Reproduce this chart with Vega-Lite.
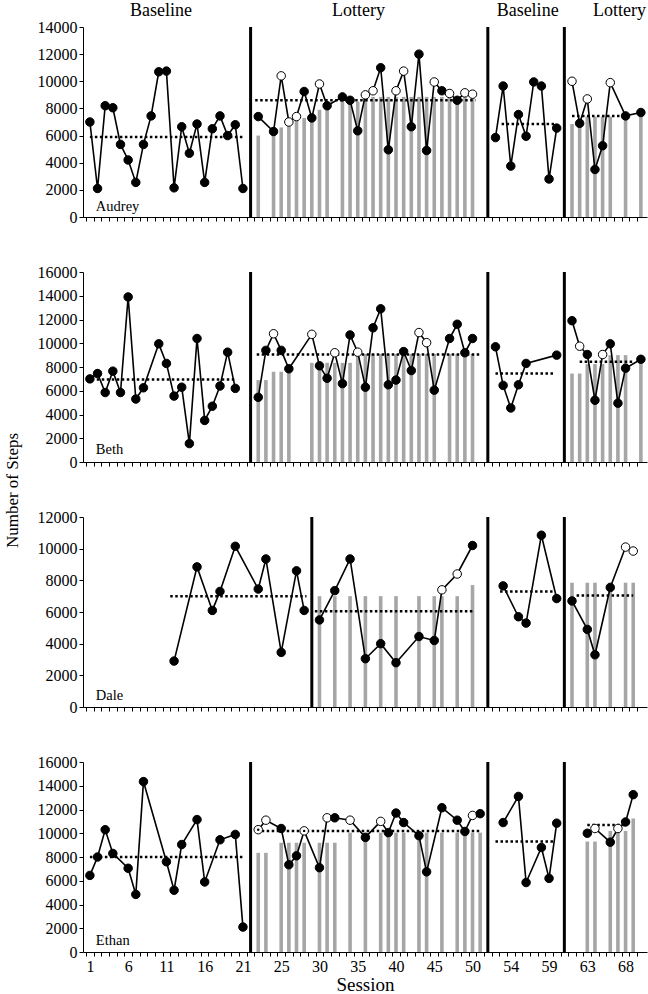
{
"$schema": "https://vega.github.io/schema/vega-lite/v6.json",
"padding": {"left": 3, "top": 2, "right": 0, "bottom": 0},
"bounds": "flush",
"spacing": 55,
"config": {
  "font": "Liberation Serif",
  "view": {"stroke": null},
  "axis": {"grid": false, "domainColor": "black", "tickColor": "black", "labelColor": "black", "titleColor": "black", "tickSize": 4, "labelFontSize": 16, "titleFontWeight": "normal", "labelFont": "Liberation Serif", "titleFont": "Liberation Serif", "domainWidth": 1, "tickWidth": 1},
  "text": {"font": "Liberation Serif", "color": "black"}
},
"datasets": {
"pts": [
{"who":"Audrey","slot":1,"steps":7000,"kind":"filled","phase":"B1"},
{"who":"Audrey","slot":2,"steps":2100,"kind":"filled","phase":"B1"},
{"who":"Audrey","slot":3,"steps":8200,"kind":"filled","phase":"B1"},
{"who":"Audrey","slot":4,"steps":8050,"kind":"filled","phase":"B1"},
{"who":"Audrey","slot":5,"steps":5350,"kind":"filled","phase":"B1"},
{"who":"Audrey","slot":6,"steps":4200,"kind":"filled","phase":"B1"},
{"who":"Audrey","slot":7,"steps":2550,"kind":"filled","phase":"B1"},
{"who":"Audrey","slot":8,"steps":5350,"kind":"filled","phase":"B1"},
{"who":"Audrey","slot":9,"steps":7450,"kind":"filled","phase":"B1"},
{"who":"Audrey","slot":10,"steps":10700,"kind":"filled","phase":"B1"},
{"who":"Audrey","slot":11,"steps":10750,"kind":"filled","phase":"B1"},
{"who":"Audrey","slot":12,"steps":2150,"kind":"filled","phase":"B1"},
{"who":"Audrey","slot":13,"steps":6650,"kind":"filled","phase":"B1"},
{"who":"Audrey","slot":14,"steps":4700,"kind":"filled","phase":"B1"},
{"who":"Audrey","slot":15,"steps":6850,"kind":"filled","phase":"B1"},
{"who":"Audrey","slot":16,"steps":2550,"kind":"filled","phase":"B1"},
{"who":"Audrey","slot":17,"steps":6500,"kind":"filled","phase":"B1"},
{"who":"Audrey","slot":18,"steps":7450,"kind":"filled","phase":"B1"},
{"who":"Audrey","slot":19,"steps":6000,"kind":"filled","phase":"B1"},
{"who":"Audrey","slot":20,"steps":6800,"kind":"filled","phase":"B1"},
{"who":"Audrey","slot":21,"steps":2100,"kind":"filled","phase":"B1"},
{"who":"Audrey","slot":23,"steps":7400,"kind":"filled","phase":"L1"},
{"who":"Audrey","slot":25,"steps":6300,"kind":"filled","phase":"L1"},
{"who":"Audrey","slot":26,"steps":10400,"kind":"open","phase":"L1"},
{"who":"Audrey","slot":27,"steps":7000,"kind":"open","phase":"L1"},
{"who":"Audrey","slot":28,"steps":7400,"kind":"open","phase":"L1"},
{"who":"Audrey","slot":29,"steps":9250,"kind":"filled","phase":"L1"},
{"who":"Audrey","slot":30,"steps":7300,"kind":"filled","phase":"L1"},
{"who":"Audrey","slot":31,"steps":9800,"kind":"open","phase":"L1"},
{"who":"Audrey","slot":32,"steps":8200,"kind":"filled","phase":"L1"},
{"who":"Audrey","slot":34,"steps":8850,"kind":"filled","phase":"L1"},
{"who":"Audrey","slot":35,"steps":8600,"kind":"filled","phase":"L1"},
{"who":"Audrey","slot":36,"steps":6350,"kind":"filled","phase":"L1"},
{"who":"Audrey","slot":37,"steps":9000,"kind":"open","phase":"L1"},
{"who":"Audrey","slot":38,"steps":9300,"kind":"open","phase":"L1"},
{"who":"Audrey","slot":39,"steps":11000,"kind":"filled","phase":"L1"},
{"who":"Audrey","slot":40,"steps":4950,"kind":"filled","phase":"L1"},
{"who":"Audrey","slot":41,"steps":9300,"kind":"open","phase":"L1"},
{"who":"Audrey","slot":42,"steps":10750,"kind":"open","phase":"L1"},
{"who":"Audrey","slot":43,"steps":6650,"kind":"filled","phase":"L1"},
{"who":"Audrey","slot":44,"steps":12000,"kind":"filled","phase":"L1"},
{"who":"Audrey","slot":45,"steps":4900,"kind":"filled","phase":"L1"},
{"who":"Audrey","slot":46,"steps":9950,"kind":"open","phase":"L1"},
{"who":"Audrey","slot":47,"steps":9300,"kind":"filled","phase":"L1"},
{"who":"Audrey","slot":48,"steps":9100,"kind":"open","phase":"L1"},
{"who":"Audrey","slot":49,"steps":8600,"kind":"filled","phase":"L1"},
{"who":"Audrey","slot":50,"steps":9150,"kind":"open","phase":"L1"},
{"who":"Audrey","slot":51,"steps":9050,"kind":"open","phase":"L1"},
{"who":"Audrey","slot":54,"steps":5850,"kind":"filled","phase":"B2"},
{"who":"Audrey","slot":55,"steps":9650,"kind":"filled","phase":"B2"},
{"who":"Audrey","slot":56,"steps":3750,"kind":"filled","phase":"B2"},
{"who":"Audrey","slot":57,"steps":7550,"kind":"filled","phase":"B2"},
{"who":"Audrey","slot":58,"steps":5950,"kind":"filled","phase":"B2"},
{"who":"Audrey","slot":59,"steps":9950,"kind":"filled","phase":"B2"},
{"who":"Audrey","slot":60,"steps":9650,"kind":"filled","phase":"B2"},
{"who":"Audrey","slot":61,"steps":2800,"kind":"filled","phase":"B2"},
{"who":"Audrey","slot":62,"steps":6550,"kind":"filled","phase":"B2"},
{"who":"Audrey","slot":64,"steps":10000,"kind":"open","phase":"L2"},
{"who":"Audrey","slot":65,"steps":6900,"kind":"filled","phase":"L2"},
{"who":"Audrey","slot":66,"steps":8700,"kind":"open","phase":"L2"},
{"who":"Audrey","slot":67,"steps":3500,"kind":"filled","phase":"L2"},
{"who":"Audrey","slot":68,"steps":5250,"kind":"filled","phase":"L2"},
{"who":"Audrey","slot":69,"steps":9900,"kind":"open","phase":"L2"},
{"who":"Audrey","slot":71,"steps":7450,"kind":"filled","phase":"L2"},
{"who":"Audrey","slot":73,"steps":7700,"kind":"filled","phase":"L2"},
{"who":"Beth","slot":1,"steps":7000,"kind":"filled","phase":"B1"},
{"who":"Beth","slot":2,"steps":7450,"kind":"filled","phase":"B1"},
{"who":"Beth","slot":3,"steps":5850,"kind":"filled","phase":"B1"},
{"who":"Beth","slot":4,"steps":7650,"kind":"filled","phase":"B1"},
{"who":"Beth","slot":5,"steps":5850,"kind":"filled","phase":"B1"},
{"who":"Beth","slot":6,"steps":13900,"kind":"filled","phase":"B1"},
{"who":"Beth","slot":7,"steps":5300,"kind":"filled","phase":"B1"},
{"who":"Beth","slot":8,"steps":6250,"kind":"filled","phase":"B1"},
{"who":"Beth","slot":10,"steps":9950,"kind":"filled","phase":"B1"},
{"who":"Beth","slot":11,"steps":8300,"kind":"filled","phase":"B1"},
{"who":"Beth","slot":12,"steps":5550,"kind":"filled","phase":"B1"},
{"who":"Beth","slot":13,"steps":6300,"kind":"filled","phase":"B1"},
{"who":"Beth","slot":14,"steps":1550,"kind":"filled","phase":"B1"},
{"who":"Beth","slot":15,"steps":10400,"kind":"filled","phase":"B1"},
{"who":"Beth","slot":16,"steps":3500,"kind":"filled","phase":"B1"},
{"who":"Beth","slot":17,"steps":4700,"kind":"filled","phase":"B1"},
{"who":"Beth","slot":18,"steps":6400,"kind":"filled","phase":"B1"},
{"who":"Beth","slot":19,"steps":9250,"kind":"filled","phase":"B1"},
{"who":"Beth","slot":20,"steps":6200,"kind":"filled","phase":"B1"},
{"who":"Beth","slot":23,"steps":5450,"kind":"filled","phase":"L1"},
{"who":"Beth","slot":24,"steps":9400,"kind":"filled","phase":"L1"},
{"who":"Beth","slot":25,"steps":10800,"kind":"open","phase":"L1"},
{"who":"Beth","slot":26,"steps":9400,"kind":"filled","phase":"L1"},
{"who":"Beth","slot":27,"steps":7850,"kind":"filled","phase":"L1"},
{"who":"Beth","slot":30,"steps":10750,"kind":"open","phase":"L1"},
{"who":"Beth","slot":31,"steps":8100,"kind":"filled","phase":"L1"},
{"who":"Beth","slot":32,"steps":7050,"kind":"filled","phase":"L1"},
{"who":"Beth","slot":33,"steps":9200,"kind":"open","phase":"L1"},
{"who":"Beth","slot":34,"steps":6600,"kind":"filled","phase":"L1"},
{"who":"Beth","slot":35,"steps":10700,"kind":"filled","phase":"L1"},
{"who":"Beth","slot":36,"steps":9250,"kind":"open","phase":"L1"},
{"who":"Beth","slot":37,"steps":6300,"kind":"filled","phase":"L1"},
{"who":"Beth","slot":38,"steps":11300,"kind":"filled","phase":"L1"},
{"who":"Beth","slot":39,"steps":12900,"kind":"filled","phase":"L1"},
{"who":"Beth","slot":40,"steps":6500,"kind":"filled","phase":"L1"},
{"who":"Beth","slot":41,"steps":6900,"kind":"filled","phase":"L1"},
{"who":"Beth","slot":42,"steps":9300,"kind":"filled","phase":"L1"},
{"who":"Beth","slot":43,"steps":7700,"kind":"filled","phase":"L1"},
{"who":"Beth","slot":44,"steps":10900,"kind":"open","phase":"L1"},
{"who":"Beth","slot":45,"steps":10050,"kind":"open","phase":"L1"},
{"who":"Beth","slot":46,"steps":6050,"kind":"filled","phase":"L1"},
{"who":"Beth","slot":48,"steps":10400,"kind":"filled","phase":"L1"},
{"who":"Beth","slot":49,"steps":11600,"kind":"filled","phase":"L1"},
{"who":"Beth","slot":50,"steps":9200,"kind":"filled","phase":"L1"},
{"who":"Beth","slot":51,"steps":10400,"kind":"filled","phase":"L1"},
{"who":"Beth","slot":54,"steps":9700,"kind":"filled","phase":"B2"},
{"who":"Beth","slot":55,"steps":6450,"kind":"filled","phase":"B2"},
{"who":"Beth","slot":56,"steps":4550,"kind":"filled","phase":"B2"},
{"who":"Beth","slot":57,"steps":6500,"kind":"filled","phase":"B2"},
{"who":"Beth","slot":58,"steps":8300,"kind":"filled","phase":"B2"},
{"who":"Beth","slot":62,"steps":9000,"kind":"filled","phase":"B2"},
{"who":"Beth","slot":64,"steps":11900,"kind":"filled","phase":"L2"},
{"who":"Beth","slot":65,"steps":9750,"kind":"open","phase":"L2"},
{"who":"Beth","slot":66,"steps":9050,"kind":"filled","phase":"L2"},
{"who":"Beth","slot":67,"steps":5200,"kind":"filled","phase":"L2"},
{"who":"Beth","slot":68,"steps":9050,"kind":"open","phase":"L2"},
{"who":"Beth","slot":69,"steps":9950,"kind":"filled","phase":"L2"},
{"who":"Beth","slot":70,"steps":4950,"kind":"filled","phase":"L2"},
{"who":"Beth","slot":71,"steps":7900,"kind":"filled","phase":"L2"},
{"who":"Beth","slot":73,"steps":8650,"kind":"filled","phase":"L2"},
{"who":"Dale","slot":12,"steps":2900,"kind":"filled","phase":"B1"},
{"who":"Dale","slot":15,"steps":8850,"kind":"filled","phase":"B1"},
{"who":"Dale","slot":17,"steps":6100,"kind":"filled","phase":"B1"},
{"who":"Dale","slot":18,"steps":7300,"kind":"filled","phase":"B1"},
{"who":"Dale","slot":20,"steps":10150,"kind":"filled","phase":"B1"},
{"who":"Dale","slot":23,"steps":7450,"kind":"filled","phase":"B1"},
{"who":"Dale","slot":24,"steps":9350,"kind":"filled","phase":"B1"},
{"who":"Dale","slot":26,"steps":3450,"kind":"filled","phase":"B1"},
{"who":"Dale","slot":28,"steps":8600,"kind":"filled","phase":"B1"},
{"who":"Dale","slot":29,"steps":6100,"kind":"filled","phase":"B1"},
{"who":"Dale","slot":31,"steps":5500,"kind":"filled","phase":"L1"},
{"who":"Dale","slot":33,"steps":7350,"kind":"filled","phase":"L1"},
{"who":"Dale","slot":35,"steps":9350,"kind":"filled","phase":"L1"},
{"who":"Dale","slot":37,"steps":3050,"kind":"filled","phase":"L1"},
{"who":"Dale","slot":39,"steps":4000,"kind":"filled","phase":"L1"},
{"who":"Dale","slot":41,"steps":2800,"kind":"filled","phase":"L1"},
{"who":"Dale","slot":44,"steps":4450,"kind":"filled","phase":"L1"},
{"who":"Dale","slot":46,"steps":4200,"kind":"filled","phase":"L1"},
{"who":"Dale","slot":47,"steps":7400,"kind":"open","phase":"L1"},
{"who":"Dale","slot":49,"steps":8400,"kind":"open","phase":"L1"},
{"who":"Dale","slot":51,"steps":10200,"kind":"filled","phase":"L1"},
{"who":"Dale","slot":55,"steps":7650,"kind":"filled","phase":"B2"},
{"who":"Dale","slot":57,"steps":5700,"kind":"filled","phase":"B2"},
{"who":"Dale","slot":58,"steps":5300,"kind":"filled","phase":"B2"},
{"who":"Dale","slot":60,"steps":10850,"kind":"filled","phase":"B2"},
{"who":"Dale","slot":62,"steps":6850,"kind":"filled","phase":"B2"},
{"who":"Dale","slot":64,"steps":6700,"kind":"filled","phase":"L2"},
{"who":"Dale","slot":66,"steps":4900,"kind":"filled","phase":"L2"},
{"who":"Dale","slot":67,"steps":3300,"kind":"filled","phase":"L2"},
{"who":"Dale","slot":69,"steps":7550,"kind":"filled","phase":"L2"},
{"who":"Dale","slot":71,"steps":10100,"kind":"open","phase":"L2"},
{"who":"Dale","slot":72,"steps":9850,"kind":"open","phase":"L2"},
{"who":"Ethan","slot":1,"steps":6450,"kind":"filled","phase":"B1"},
{"who":"Ethan","slot":2,"steps":8000,"kind":"filled","phase":"B1"},
{"who":"Ethan","slot":3,"steps":10300,"kind":"filled","phase":"B1"},
{"who":"Ethan","slot":4,"steps":8300,"kind":"filled","phase":"B1"},
{"who":"Ethan","slot":6,"steps":7050,"kind":"filled","phase":"B1"},
{"who":"Ethan","slot":7,"steps":4850,"kind":"filled","phase":"B1"},
{"who":"Ethan","slot":8,"steps":14350,"kind":"filled","phase":"B1"},
{"who":"Ethan","slot":11,"steps":7600,"kind":"filled","phase":"B1"},
{"who":"Ethan","slot":12,"steps":5200,"kind":"filled","phase":"B1"},
{"who":"Ethan","slot":13,"steps":9050,"kind":"filled","phase":"B1"},
{"who":"Ethan","slot":15,"steps":11150,"kind":"filled","phase":"B1"},
{"who":"Ethan","slot":16,"steps":5900,"kind":"filled","phase":"B1"},
{"who":"Ethan","slot":18,"steps":9450,"kind":"filled","phase":"B1"},
{"who":"Ethan","slot":20,"steps":9900,"kind":"filled","phase":"B1"},
{"who":"Ethan","slot":21,"steps":2100,"kind":"filled","phase":"B1"},
{"who":"Ethan","slot":23,"steps":10300,"kind":"dot","phase":"L1"},
{"who":"Ethan","slot":24,"steps":11100,"kind":"open","phase":"L1"},
{"who":"Ethan","slot":26,"steps":10400,"kind":"filled","phase":"L1"},
{"who":"Ethan","slot":27,"steps":7350,"kind":"filled","phase":"L1"},
{"who":"Ethan","slot":28,"steps":8100,"kind":"filled","phase":"L1"},
{"who":"Ethan","slot":29,"steps":10200,"kind":"dot","phase":"L1"},
{"who":"Ethan","slot":31,"steps":7100,"kind":"filled","phase":"L1"},
{"who":"Ethan","slot":32,"steps":11300,"kind":"open","phase":"L1"},
{"who":"Ethan","slot":33,"steps":11300,"kind":"filled","phase":"L1"},
{"who":"Ethan","slot":35,"steps":11100,"kind":"open","phase":"L1"},
{"who":"Ethan","slot":37,"steps":9650,"kind":"filled","phase":"L1"},
{"who":"Ethan","slot":39,"steps":11000,"kind":"open","phase":"L1"},
{"who":"Ethan","slot":40,"steps":10050,"kind":"filled","phase":"L1"},
{"who":"Ethan","slot":41,"steps":11700,"kind":"filled","phase":"L1"},
{"who":"Ethan","slot":42,"steps":10900,"kind":"filled","phase":"L1"},
{"who":"Ethan","slot":44,"steps":9800,"kind":"filled","phase":"L1"},
{"who":"Ethan","slot":45,"steps":6750,"kind":"filled","phase":"L1"},
{"who":"Ethan","slot":47,"steps":12150,"kind":"filled","phase":"L1"},
{"who":"Ethan","slot":49,"steps":11100,"kind":"filled","phase":"L1"},
{"who":"Ethan","slot":50,"steps":10150,"kind":"filled","phase":"L1"},
{"who":"Ethan","slot":51,"steps":11500,"kind":"open","phase":"L1"},
{"who":"Ethan","slot":52,"steps":11650,"kind":"filled","phase":"L1"},
{"who":"Ethan","slot":55,"steps":10900,"kind":"filled","phase":"B2"},
{"who":"Ethan","slot":57,"steps":13100,"kind":"filled","phase":"B2"},
{"who":"Ethan","slot":58,"steps":5850,"kind":"filled","phase":"B2"},
{"who":"Ethan","slot":60,"steps":8800,"kind":"filled","phase":"B2"},
{"who":"Ethan","slot":61,"steps":6200,"kind":"filled","phase":"B2"},
{"who":"Ethan","slot":62,"steps":10850,"kind":"filled","phase":"B2"},
{"who":"Ethan","slot":66,"steps":10000,"kind":"filled","phase":"L2"},
{"who":"Ethan","slot":67,"steps":10400,"kind":"open","phase":"L2"},
{"who":"Ethan","slot":69,"steps":9250,"kind":"filled","phase":"L2"},
{"who":"Ethan","slot":70,"steps":10400,"kind":"open","phase":"L2"},
{"who":"Ethan","slot":71,"steps":10950,"kind":"filled","phase":"L2"},
{"who":"Ethan","slot":72,"steps":13250,"kind":"filled","phase":"L2"}
],
"bars": [
{"who":"Audrey","slot":23,"steps":6000},{"who":"Audrey","slot":25,"steps":6300},{"who":"Audrey","slot":26,"steps":6600},{"who":"Audrey","slot":27,"steps":6800},{"who":"Audrey","slot":28,"steps":7100},{"who":"Audrey","slot":29,"steps":7300},{"who":"Audrey","slot":30,"steps":7600},{"who":"Audrey","slot":31,"steps":7900},{"who":"Audrey","slot":32,"steps":8100},{"who":"Audrey","slot":34,"steps":8500},{"who":"Audrey","slot":35,"steps":8500},{"who":"Audrey","slot":36,"steps":8500},
{"who":"Audrey","slot":37,"steps":8850},{"who":"Audrey","slot":38,"steps":8850},{"who":"Audrey","slot":39,"steps":8850},{"who":"Audrey","slot":40,"steps":8850},{"who":"Audrey","slot":41,"steps":8850},{"who":"Audrey","slot":42,"steps":8850},{"who":"Audrey","slot":43,"steps":8850},{"who":"Audrey","slot":44,"steps":8850},{"who":"Audrey","slot":45,"steps":8850},{"who":"Audrey","slot":46,"steps":8850},{"who":"Audrey","slot":47,"steps":8850},{"who":"Audrey","slot":48,"steps":8850},{"who":"Audrey","slot":49,"steps":8850},{"who":"Audrey","slot":50,"steps":8850},{"who":"Audrey","slot":51,"steps":8850},
{"who":"Audrey","slot":64,"steps":6850},{"who":"Audrey","slot":65,"steps":6850},{"who":"Audrey","slot":66,"steps":7400},{"who":"Audrey","slot":67,"steps":7400},{"who":"Audrey","slot":68,"steps":7400},{"who":"Audrey","slot":69,"steps":7400},{"who":"Audrey","slot":71,"steps":7400},{"who":"Audrey","slot":73,"steps":7400},
{"who":"Beth","slot":23,"steps":6900},{"who":"Beth","slot":24,"steps":6900},{"who":"Beth","slot":25,"steps":7600},{"who":"Beth","slot":26,"steps":7600},{"who":"Beth","slot":27,"steps":7600},{"who":"Beth","slot":30,"steps":8350},{"who":"Beth","slot":31,"steps":8350},{"who":"Beth","slot":32,"steps":8350},{"who":"Beth","slot":33,"steps":8350},{"who":"Beth","slot":34,"steps":8350},{"who":"Beth","slot":35,"steps":8350},
{"who":"Beth","slot":36,"steps":9100},{"who":"Beth","slot":37,"steps":9100},{"who":"Beth","slot":38,"steps":9100},{"who":"Beth","slot":39,"steps":9100},{"who":"Beth","slot":40,"steps":9100},{"who":"Beth","slot":41,"steps":9100},{"who":"Beth","slot":42,"steps":9100},{"who":"Beth","slot":43,"steps":9100},{"who":"Beth","slot":44,"steps":9100},{"who":"Beth","slot":45,"steps":9100},{"who":"Beth","slot":46,"steps":9100},{"who":"Beth","slot":48,"steps":9100},{"who":"Beth","slot":49,"steps":9100},{"who":"Beth","slot":50,"steps":9100},{"who":"Beth","slot":51,"steps":9100},
{"who":"Beth","slot":64,"steps":7450},{"who":"Beth","slot":65,"steps":7450},{"who":"Beth","slot":66,"steps":8250},{"who":"Beth","slot":67,"steps":8250},{"who":"Beth","slot":68,"steps":8250},{"who":"Beth","slot":69,"steps":9000},{"who":"Beth","slot":70,"steps":9000},{"who":"Beth","slot":71,"steps":9000},{"who":"Beth","slot":73,"steps":8250},
{"who":"Dale","slot":31,"steps":7000},{"who":"Dale","slot":33,"steps":7000},{"who":"Dale","slot":35,"steps":7000},{"who":"Dale","slot":37,"steps":7000},{"who":"Dale","slot":39,"steps":7000},{"who":"Dale","slot":41,"steps":7000},{"who":"Dale","slot":44,"steps":7000},{"who":"Dale","slot":46,"steps":7000},{"who":"Dale","slot":47,"steps":7000},{"who":"Dale","slot":49,"steps":7000},{"who":"Dale","slot":51,"steps":7700},
{"who":"Dale","slot":64,"steps":7850},{"who":"Dale","slot":66,"steps":7850},{"who":"Dale","slot":67,"steps":7850},{"who":"Dale","slot":69,"steps":7850},{"who":"Dale","slot":71,"steps":7850},{"who":"Dale","slot":72,"steps":7850},
{"who":"Ethan","slot":23,"steps":8350},{"who":"Ethan","slot":24,"steps":8350},{"who":"Ethan","slot":26,"steps":9200},{"who":"Ethan","slot":27,"steps":9200},{"who":"Ethan","slot":28,"steps":9200},{"who":"Ethan","slot":29,"steps":9200},{"who":"Ethan","slot":31,"steps":9200},{"who":"Ethan","slot":32,"steps":9200},{"who":"Ethan","slot":33,"steps":9200},
{"who":"Ethan","slot":35,"steps":10050},{"who":"Ethan","slot":37,"steps":10050},{"who":"Ethan","slot":39,"steps":10050},{"who":"Ethan","slot":40,"steps":10050},{"who":"Ethan","slot":41,"steps":10050},{"who":"Ethan","slot":42,"steps":10050},{"who":"Ethan","slot":44,"steps":10050},{"who":"Ethan","slot":45,"steps":10050},{"who":"Ethan","slot":47,"steps":10050},{"who":"Ethan","slot":49,"steps":10050},{"who":"Ethan","slot":50,"steps":10050},{"who":"Ethan","slot":51,"steps":10050},{"who":"Ethan","slot":52,"steps":10050},
{"who":"Ethan","slot":66,"steps":9300},{"who":"Ethan","slot":67,"steps":9300},{"who":"Ethan","slot":69,"steps":10200},{"who":"Ethan","slot":70,"steps":10200},{"who":"Ethan","slot":71,"steps":10200},{"who":"Ethan","slot":72,"steps":11250}
],
"means": [
{"who":"Audrey","slot":1,"slot2":21,"steps":5900},{"who":"Audrey","slot":22.6,"slot2":51.4,"steps":8600},{"who":"Audrey","slot":54.8,"slot2":62,"steps":6850},{"who":"Audrey","slot":64,"slot2":71,"steps":7450},
{"who":"Beth","slot":1.9,"slot2":20.2,"steps":6950},{"who":"Beth","slot":22.8,"slot2":52,"steps":9050},{"who":"Beth","slot":54,"slot2":61.6,"steps":7450},{"who":"Beth","slot":65,"slot2":72,"steps":8450},
{"who":"Dale","slot":11.5,"slot2":29.3,"steps":7000},{"who":"Dale","slot":30.4,"slot2":51.3,"steps":6050},{"who":"Dale","slot":54.6,"slot2":61.8,"steps":7300},{"who":"Dale","slot":64.6,"slot2":72,"steps":7050},
{"who":"Ethan","slot":1,"slot2":21,"steps":8000},{"who":"Ethan","slot":22.8,"slot2":52,"steps":10200},{"who":"Ethan","slot":54,"slot2":61.6,"steps":9300},{"who":"Ethan","slot":66,"slot2":71,"steps":10700}
],
"phases": [
{"who":"Audrey","slot":22,"steps":0,"top":14000},{"who":"Audrey","slot":53,"steps":0,"top":14000},{"who":"Audrey","slot":63,"steps":0,"top":14000},
{"who":"Beth","slot":22,"steps":0,"top":16000},{"who":"Beth","slot":53,"steps":0,"top":16000},{"who":"Beth","slot":63,"steps":0,"top":16000},
{"who":"Dale","slot":30,"steps":0,"top":12000},{"who":"Dale","slot":53,"steps":0,"top":12000},{"who":"Dale","slot":63,"steps":0,"top":12000},
{"who":"Ethan","slot":22,"steps":0,"top":16000},{"who":"Ethan","slot":53,"steps":0,"top":16000},{"who":"Ethan","slot":63,"steps":0,"top":16000}
],
"names": [
{"who":"Audrey","slot":1.78,"steps":740},{"who":"Beth","slot":1.78,"steps":1010},{"who":"Dale","slot":1.78,"steps":680},{"who":"Ethan","slot":1.78,"steps":930}
],
"heads": [
{"label":"Baseline","slot":10.3,"steps":15150},{"label":"Lottery","slot":36.1,"steps":15150},{"label":"Baseline","slot":58.2,"steps":15150},{"label":"Lottery","slot":70.2,"steps":15150}
]
},
"vconcat": [
{
"width": 564, "height": 190,
"encoding": {
  "x": {"field": "slot", "type": "quantitative", "scale": {"domain": [0.1, 73.8], "nice": false, "zero": false, "padding": 0},
        "axis": {"values": [1,2,3,4,5,6,7,8,9,10,11,12,13,14,15,16,17,18,19,20,21,22,23,24,25,26,27,28,29,30,31,32,33,34,35,36,37,38,39,40,41,42,43,44,45,46,47,48,49,50,51,52,53,54,55,56,57,58,59,60,61,62,63,64,65,66,67,68,69,70,71,72,73], "labels": false, "title": null, "tickOffset": -3.83}},
  "y": {"field": "steps", "type": "quantitative", "scale": {"domain": [0, 14000], "nice": false},
        "axis": {"values": [0,2000,4000,6000,8000,10000,12000,14000], "format": "d", "title": null, "labelPadding": 2}}
},
"layer": [
{"data": {"name": "bars"}, "transform": [{"filter": "datum.who === 'Audrey'"}], "mark": {"type": "bar", "width": 3.6, "color": "#a6a6a6"}},
{"data": {"name": "phases"}, "transform": [{"filter": "datum.who === 'Audrey'"}], "mark": {"type": "rule", "strokeWidth": 3, "color": "black"}, "encoding": {"y2": {"field": "top"}}},
{"data": {"name": "means"}, "transform": [{"filter": "datum.who === 'Audrey'"}], "mark": {"type": "rule", "strokeWidth": 2.5, "strokeDash": [2.5, 2.5], "color": "black"}, "encoding": {"x2": {"field": "slot2"}}},
{"data": {"name": "pts"}, "transform": [{"filter": "datum.who === 'Audrey'"}], "mark": {"type": "line", "color": "black", "strokeWidth": 1.6}, "encoding": {"detail": {"field": "phase"}}},
{"data": {"name": "pts"}, "transform": [{"filter": "datum.who === 'Audrey'"}], "mark": {"type": "point", "shape": "circle", "filled": true, "size": 72, "stroke": "black", "strokeWidth": 1, "opacity": 1},
 "encoding": {"fill": {"field": "kind", "type": "nominal", "scale": {"domain": ["filled", "open", "dot"], "range": ["black", "white", "white"]}, "legend": null}}},
{"data": {"name": "names"}, "transform": [{"filter": "datum.who === 'Audrey'"}], "mark": {"type": "text", "align": "left", "baseline": "middle", "fontSize": 14.5}, "encoding": {"text": {"field": "who"}}},
{"data": {"name": "heads"}, "mark": {"type": "text", "align": "center", "baseline": "middle", "fontSize": 18}, "encoding": {"text": {"field": "label"}}}
]
},
{
"width": 564, "height": 190,
"encoding": {
  "x": {"field": "slot", "type": "quantitative", "scale": {"domain": [0.1, 73.8], "nice": false, "zero": false, "padding": 0},
        "axis": {"values": [1,2,3,4,5,6,7,8,9,10,11,12,13,14,15,16,17,18,19,20,21,22,23,24,25,26,27,28,29,30,31,32,33,34,35,36,37,38,39,40,41,42,43,44,45,46,47,48,49,50,51,52,53,54,55,56,57,58,59,60,61,62,63,64,65,66,67,68,69,70,71,72,73], "labels": false, "title": null, "tickOffset": -3.83}},
  "y": {"field": "steps", "type": "quantitative", "scale": {"domain": [0, 16000], "nice": false},
        "axis": {"values": [0,2000,4000,6000,8000,10000,12000,14000,16000], "format": "d", "labelPadding": 2, "title": "Number of Steps", "titleFontSize": 17, "titleX": -62, "titleY": 218, "titleAlign": "center"}}
},
"layer": [
{"data": {"name": "bars"}, "transform": [{"filter": "datum.who === 'Beth'"}], "mark": {"type": "bar", "width": 3.6, "color": "#a6a6a6"}},
{"data": {"name": "phases"}, "transform": [{"filter": "datum.who === 'Beth'"}], "mark": {"type": "rule", "strokeWidth": 3, "color": "black"}, "encoding": {"y2": {"field": "top"}}},
{"data": {"name": "means"}, "transform": [{"filter": "datum.who === 'Beth'"}], "mark": {"type": "rule", "strokeWidth": 2.5, "strokeDash": [2.5, 2.5], "color": "black"}, "encoding": {"x2": {"field": "slot2"}}},
{"data": {"name": "pts"}, "transform": [{"filter": "datum.who === 'Beth'"}], "mark": {"type": "line", "color": "black", "strokeWidth": 1.6}, "encoding": {"detail": {"field": "phase"}}},
{"data": {"name": "pts"}, "transform": [{"filter": "datum.who === 'Beth'"}], "mark": {"type": "point", "shape": "circle", "filled": true, "size": 72, "stroke": "black", "strokeWidth": 1, "opacity": 1},
 "encoding": {"fill": {"field": "kind", "type": "nominal", "scale": {"domain": ["filled", "open", "dot"], "range": ["black", "white", "white"]}, "legend": null}}},
{"data": {"name": "names"}, "transform": [{"filter": "datum.who === 'Beth'"}], "mark": {"type": "text", "align": "left", "baseline": "middle", "fontSize": 14.5}, "encoding": {"text": {"field": "who"}}}
]
},
{
"width": 564, "height": 190,
"encoding": {
  "x": {"field": "slot", "type": "quantitative", "scale": {"domain": [0.1, 73.8], "nice": false, "zero": false, "padding": 0},
        "axis": {"values": [1,2,3,4,5,6,7,8,9,10,11,12,13,14,15,16,17,18,19,20,21,22,23,24,25,26,27,28,29,30,31,32,33,34,35,36,37,38,39,40,41,42,43,44,45,46,47,48,49,50,51,52,53,54,55,56,57,58,59,60,61,62,63,64,65,66,67,68,69,70,71,72,73], "labels": false, "title": null, "tickOffset": -3.83}},
  "y": {"field": "steps", "type": "quantitative", "scale": {"domain": [0, 12000], "nice": false},
        "axis": {"values": [0,2000,4000,6000,8000,10000,12000], "format": "d", "title": null, "labelPadding": 2}}
},
"layer": [
{"data": {"name": "bars"}, "transform": [{"filter": "datum.who === 'Dale'"}], "mark": {"type": "bar", "width": 3.6, "color": "#a6a6a6"}},
{"data": {"name": "phases"}, "transform": [{"filter": "datum.who === 'Dale'"}], "mark": {"type": "rule", "strokeWidth": 3, "color": "black"}, "encoding": {"y2": {"field": "top"}}},
{"data": {"name": "means"}, "transform": [{"filter": "datum.who === 'Dale'"}], "mark": {"type": "rule", "strokeWidth": 2.5, "strokeDash": [2.5, 2.5], "color": "black"}, "encoding": {"x2": {"field": "slot2"}}},
{"data": {"name": "pts"}, "transform": [{"filter": "datum.who === 'Dale'"}], "mark": {"type": "line", "color": "black", "strokeWidth": 1.6}, "encoding": {"detail": {"field": "phase"}}},
{"data": {"name": "pts"}, "transform": [{"filter": "datum.who === 'Dale'"}], "mark": {"type": "point", "shape": "circle", "filled": true, "size": 72, "stroke": "black", "strokeWidth": 1, "opacity": 1},
 "encoding": {"fill": {"field": "kind", "type": "nominal", "scale": {"domain": ["filled", "open", "dot"], "range": ["black", "white", "white"]}, "legend": null}}},
{"data": {"name": "names"}, "transform": [{"filter": "datum.who === 'Dale'"}], "mark": {"type": "text", "align": "left", "baseline": "middle", "fontSize": 14.5}, "encoding": {"text": {"field": "who"}}}
]
},
{
"width": 564, "height": 190,
"encoding": {
  "x": {"field": "slot", "type": "quantitative", "scale": {"domain": [0.1, 73.8], "nice": false, "zero": false, "padding": 0},
        "axis": {"values": [1,2,3,4,5,6,7,8,9,10,11,12,13,14,15,16,17,18,19,20,21,22,23,24,25,26,27,28,29,30,31,32,33,34,35,36,37,38,39,40,41,42,43,44,45,46,47,48,49,50,51,52,53,54,55,56,57,58,59,60,61,62,63,64,65,66,67,68,69,70,71,72,73], "tickOffset": -3.83, "labelOffset": 3.83, "labelPadding": 2, "labelFlush": false, "labelOverlap": false,
                 "labelExpr": "indexof([1,6,11,16,21,26,31,36,41,46,51,56,61,66,71], datum.value) >= 0 ? toString(datum.value <= 21 ? datum.value : (datum.value <= 52 ? datum.value - 1 : (datum.value <= 62 ? datum.value - 2 : datum.value - 3))) : ''",
                 "title": "Session", "titleFontSize": 19, "titlePadding": 1}},
  "y": {"field": "steps", "type": "quantitative", "scale": {"domain": [0, 16000], "nice": false},
        "axis": {"values": [0,2000,4000,6000,8000,10000,12000,14000,16000], "format": "d", "title": null, "labelPadding": 2}}
},
"layer": [
{"data": {"name": "bars"}, "transform": [{"filter": "datum.who === 'Ethan'"}], "mark": {"type": "bar", "width": 3.6, "color": "#a6a6a6"}},
{"data": {"name": "phases"}, "transform": [{"filter": "datum.who === 'Ethan'"}], "mark": {"type": "rule", "strokeWidth": 3, "color": "black"}, "encoding": {"y2": {"field": "top"}}},
{"data": {"name": "means"}, "transform": [{"filter": "datum.who === 'Ethan'"}], "mark": {"type": "rule", "strokeWidth": 2.5, "strokeDash": [2.5, 2.5], "color": "black"}, "encoding": {"x2": {"field": "slot2"}}},
{"data": {"name": "pts"}, "transform": [{"filter": "datum.who === 'Ethan'"}], "mark": {"type": "line", "color": "black", "strokeWidth": 1.6}, "encoding": {"detail": {"field": "phase"}}},
{"data": {"name": "pts"}, "transform": [{"filter": "datum.who === 'Ethan'"}], "mark": {"type": "point", "shape": "circle", "filled": true, "size": 72, "stroke": "black", "strokeWidth": 1, "opacity": 1},
 "encoding": {"fill": {"field": "kind", "type": "nominal", "scale": {"domain": ["filled", "open", "dot"], "range": ["black", "white", "white"]}, "legend": null}}},
{"data": {"name": "pts"}, "transform": [{"filter": "datum.who === 'Ethan' && datum.kind === 'dot'"}], "mark": {"type": "point", "shape": "circle", "filled": true, "size": 6, "color": "black", "opacity": 1}},
{"data": {"name": "names"}, "transform": [{"filter": "datum.who === 'Ethan'"}], "mark": {"type": "text", "align": "left", "baseline": "middle", "fontSize": 14.5}, "encoding": {"text": {"field": "who"}}}
]
}
]
}
